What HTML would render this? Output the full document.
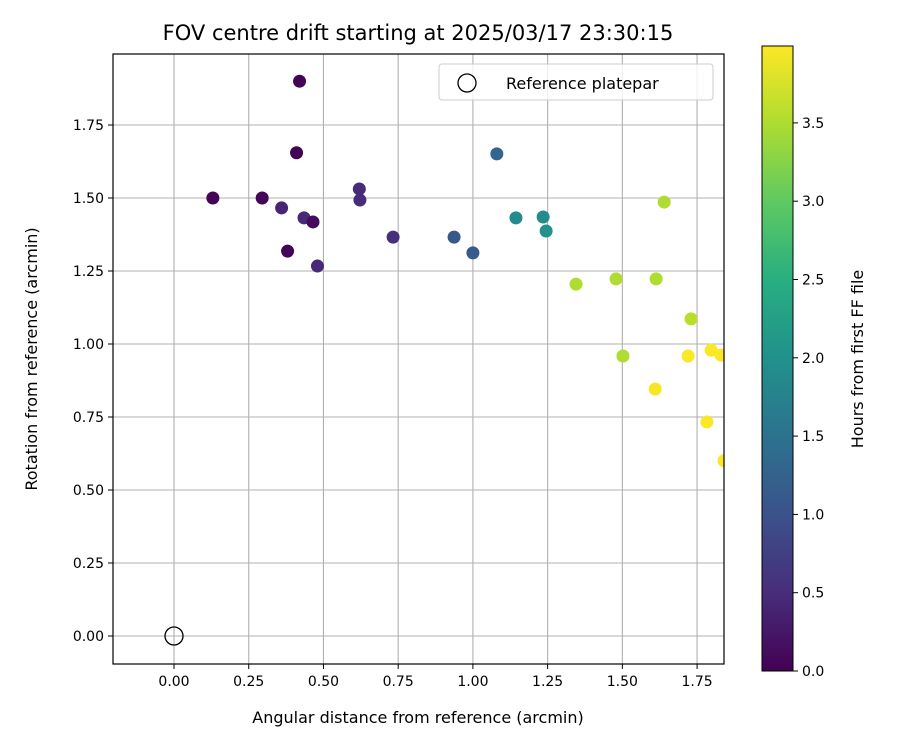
<!DOCTYPE html>
<html><head><meta charset="utf-8"><style>
body{margin:0;background:#fff;font-family:"Liberation Sans","DejaVu Sans",sans-serif;}
svg text{font-family:"DejaVu Sans","Liberation Sans",sans-serif;fill:#000;}
</style></head><body>
<svg id="chart" width="900" height="750" xmlns="http://www.w3.org/2000/svg">
<defs>
<clipPath id="clip"><rect x="113" y="54" width="611" height="610"/></clipPath>
<linearGradient id="vir" x1="0" y1="1" x2="0" y2="0">
<stop offset="0" stop-color="#440154"/><stop offset="0.125" stop-color="#472d7b"/><stop offset="0.25" stop-color="#3b528b"/><stop offset="0.375" stop-color="#2c728e"/><stop offset="0.5" stop-color="#21918c"/><stop offset="0.625" stop-color="#28ae80"/><stop offset="0.75" stop-color="#5ec962"/><stop offset="0.875" stop-color="#addc30"/><stop offset="1" stop-color="#fde725"/>
</linearGradient>
</defs>
<text x="418" y="40" font-size="21" text-anchor="middle">FOV centre drift starting at 2025/03/17 23:30:15</text>
<g id="grid"></g>
<g id="points" clip-path="url(#clip)"></g>
<rect x="113" y="54" width="611" height="610" fill="none" stroke="#000" stroke-width="1.2"/>
<g id="ticks"></g>
<text x="418" y="723" font-size="16" text-anchor="middle">Angular distance from reference (arcmin)</text>
<text transform="translate(37,359) rotate(-90)" font-size="16" text-anchor="middle">Rotation from reference (arcmin)</text>
<g>
<rect x="439" y="64" width="274" height="36" rx="3" fill="#fff" fill-opacity="0.8" stroke="#ccc"/>
<circle cx="467" cy="83" r="9" fill="none" stroke="#000" stroke-width="1.3"/>
<text x="506" y="89" font-size="16">Reference platepar</text>
</g>
<rect x="762" y="46" width="31" height="625" fill="url(#vir)" stroke="#000" stroke-width="1"/>
<g id="cbticks"></g>
<text transform="translate(863,359) rotate(-90)" font-size="16" text-anchor="middle">Hours from first FF file</text>
</svg>
<script>
const xTicks=[0,0.25,0.5,0.75,1.0,1.25,1.5,1.75];
const yTicks=[0,0.25,0.5,0.75,1.0,1.25,1.5,1.75];
const cTicks=[0,0.5,1,1.5,2,2.5,3,3.5];
const xVals=[0.42,0.41,0.13,0.295,0.36,0.435,0.465,0.38,0.48,0.62,0.622,0.733,0.937,1.0,1.08,1.144,1.235,1.245,1.64,1.345,1.479,1.613,1.73,1.502,1.72,1.797,1.83,1.61,1.783,1.84];
const yVals=[1.90,1.655,1.50,1.50,1.466,1.432,1.418,1.318,1.267,1.531,1.493,1.366,1.366,1.312,1.651,1.432,1.435,1.387,1.486,1.205,1.223,1.223,1.086,0.959,0.959,0.979,0.962,0.846,0.733,0.60];
const hours=[0.02,0.03,0.04,0.06,0.4,0.45,0.1,0.05,0.45,0.5,0.5,0.55,1.1,1.15,1.3,1.9,1.95,2.0,3.5,3.5,3.5,3.5,3.55,3.5,3.97,3.97,3.97,3.95,3.97,3.99];
const sx=v=>174+v*298.9, sy=v=>636-v*292, sc=v=>671-v*156.6;
const vir=["#440154","#482878","#3e4989","#31688e","#26828e","#1f9e89","#35b779","#6ece58","#b5de2b","#fde725"];
function color(h){let t=Math.max(0,Math.min(1,h/3.99))*(vir.length-1);let i=Math.min(Math.floor(t),vir.length-2),f=t-i;
const a=vir[i],b=vir[i+1];const p=(c,k)=>parseInt(c.substr(k,2),16);let r=[1,3,5].map(k=>Math.round(p(a,k)+(p(b,k)-p(a,k))*f));return `rgb(${r})`;}
const NS="http://www.w3.org/2000/svg";
function mk(tag,attrs,parent){const e=document.createElementNS(NS,tag);for(const k in attrs)e.setAttribute(k,attrs[k]);parent.appendChild(e);return e;}
const grid=document.getElementById('grid'),ticks=document.getElementById('ticks'),pts=document.getElementById('points'),cb=document.getElementById('cbticks');
xTicks.forEach(v=>{const x=sx(v);
const g=mk('line',{x1:x,x2:x,y1:54,y2:664,stroke:'#b0b0b0','stroke-width':1.1},grid);


mk('line',{x1:x,x2:x,y1:664,y2:669,stroke:'#000'},ticks);
const t=mk('text',{x:x,y:686,'font-size':14,'text-anchor':'middle'},ticks);t.textContent=v.toFixed(2);

});
yTicks.forEach(v=>{const y=sy(v);
const g=mk('line',{x1:113,x2:724,y1:y,y2:y,stroke:'#b0b0b0','stroke-width':1.1},grid);


mk('line',{x1:108,x2:113,y1:y,y2:y,stroke:'#000'},ticks);
const t=mk('text',{x:104,y:y+5,'font-size':14,'text-anchor':'end'},ticks);t.textContent=v.toFixed(2);

});
cTicks.forEach(v=>{const y=sc(v);
mk('line',{x1:793,x2:798,y1:y,y2:y,stroke:'#000'},cb);
const t=mk('text',{x:802,y:y+5,'font-size':14},cb);t.textContent=v.toFixed(1);

});
const ref=mk('circle',{cx:sx(0),cy:sy(0),r:9,fill:'none',stroke:'#000','stroke-width':1.3},pts);


xVals.forEach((v,i)=>{const c=mk('circle',{cx:sx(v),cy:sy(yVals[i]),r:6.5,fill:color(hours[i])},pts);

});
</script>
</body></html>
